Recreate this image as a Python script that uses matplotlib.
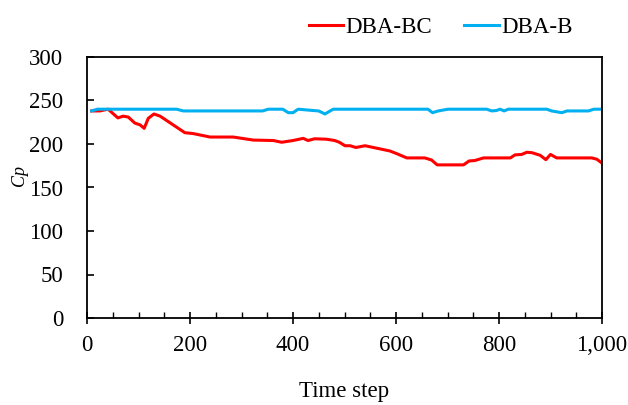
import matplotlib
matplotlib.use("Agg")
import matplotlib.pyplot as plt
from matplotlib.ticker import FuncFormatter, MultipleLocator

plt.rcParams['font.family'] = ['Liberation Serif', 'DejaVu Serif']

# Data
bc_x = [9, 25, 41, 60, 70, 80, 93, 103, 111, 119, 130, 142, 190, 206, 239, 284, 323,
        362, 378, 400, 420, 429, 442, 465, 481, 490, 501, 511, 522, 540, 556, 588, 601,
        621, 656, 669, 680, 731, 742, 753, 770, 822, 831, 844, 854, 864, 880, 891, 900,
        912, 980, 990, 1000]
bc_y = [238, 238, 240, 230, 232, 231, 224, 222, 218, 229.5, 234.5, 232, 213, 212, 208,
        208, 204.5, 204, 202, 204, 206.5, 204, 206, 205.5, 204, 202, 198, 198, 196, 198,
        196, 192, 189, 184, 184, 181.6, 176, 176, 180.5, 181, 184, 184, 187.5, 188, 190.5,
        190, 187, 182, 188, 184, 184, 182.5, 178]

b_x = [9, 20, 174, 187, 341, 352, 380, 391, 400, 410, 439, 450, 462, 478, 662, 671, 682,
       701, 776, 786, 795, 802, 810, 818, 893, 902, 922, 932, 974, 984, 1000]
b_y = [238, 240, 240, 238, 238, 240, 240, 236, 236, 240, 238.5, 238, 234.5, 240, 240, 236,
       238, 240, 240, 238, 238.5, 240, 238, 240, 240, 238, 236, 238, 238, 240, 240]

series_names = ["DBA-BC", "DBA-B"]
x_label = "Time step"
y_label = "Cp"

fig = plt.figure(figsize=(6.28, 4.05), dpi=100)
ax = fig.add_axes([87/628, 1-318/405, (602-87)/628, (318-57)/405])

ax.plot(bc_x, bc_y, color='#FF0000', lw=2.2, label=series_names[0])
ax.plot(b_x, b_y, color='#00B0F0', lw=2.2, label=series_names[1])

ax.set_xlim(0, 1000)
ax.set_ylim(0, 300)
ax.xaxis.set_major_locator(MultipleLocator(200))
ax.xaxis.set_minor_locator(MultipleLocator(50))
ax.yaxis.set_major_locator(MultipleLocator(50))
ax.xaxis.set_major_formatter(FuncFormatter(lambda v, p: f"{v:,.0f}"))

for s in ax.spines.values():
    s.set_linewidth(1.3)
    s.set_color('black')

ax.tick_params(axis='x', which='major', direction='inout', length=9, width=1.2,
               labelsize=16.5, pad=8)
ax.tick_params(axis='x', which='minor', direction='in', length=4.5, width=1.0)
ax.tick_params(axis='y', which='major', direction='in', length=5, width=1.2,
               labelsize=16.5, pad=17)

ax.set_xlabel(x_label, fontsize=16.5, labelpad=18)
ax.set_ylabel(y_label, fontsize=13, fontstyle='italic')
ax.yaxis.set_label_coords(-0.115, 0.545)

fig.legend(loc='center', bbox_to_anchor=(0.702, 0.933), ncol=2, frameon=False,
           fontsize=16.5, handlelength=1.5, handletextpad=0.12, columnspacing=1.4,
           borderpad=0)

fig.savefig("out.png", dpi=100)
